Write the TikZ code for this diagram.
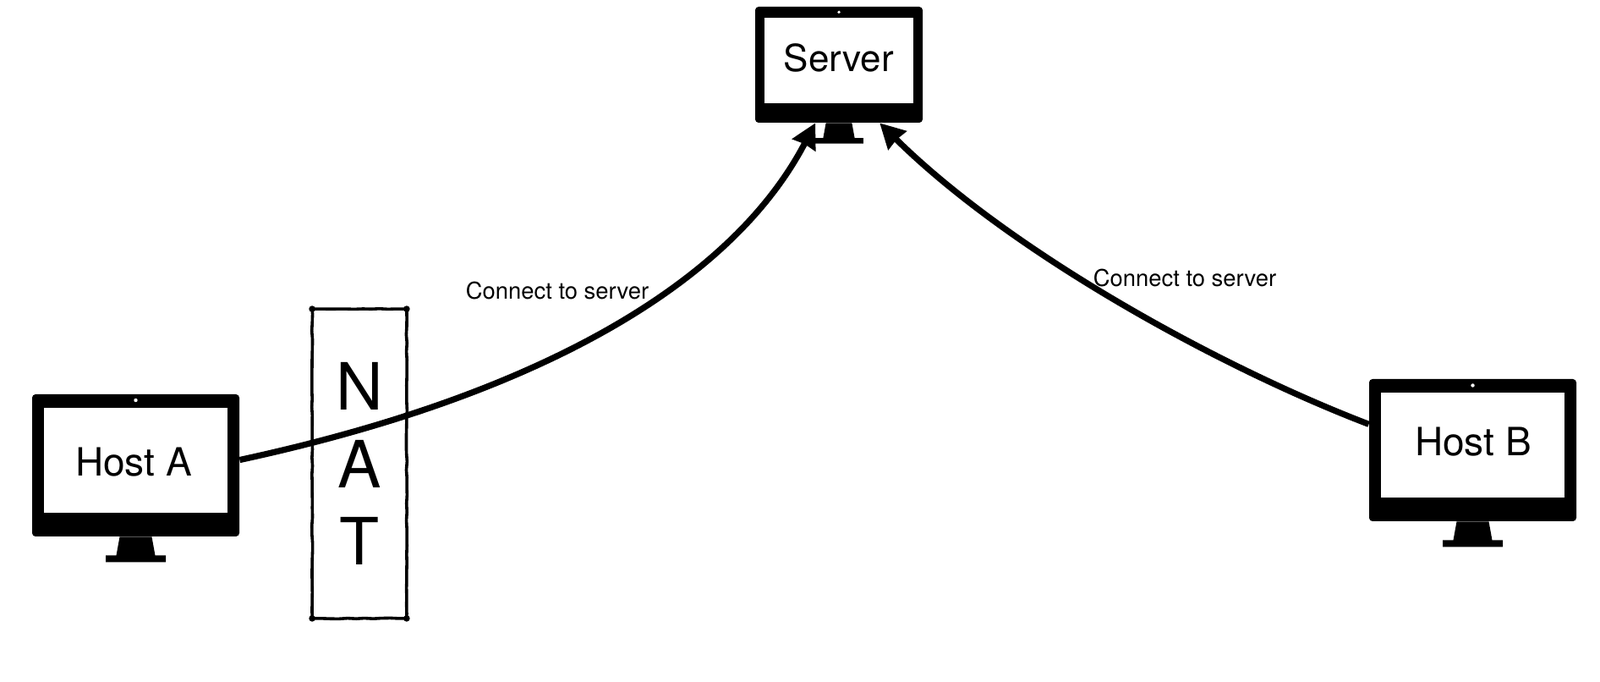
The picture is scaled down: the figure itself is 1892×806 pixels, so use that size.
\documentclass[tikz,border=0pt]{standalone}
\usepackage{fontspec}
\setmainfont{TeX Gyre Heros}
\usetikzlibrary{positioning, calc, arrows.meta, decorations.pathmorphing}
\tikzstyle{Body} = [
	rectangle, fill=black, rounded corners=2pt, inner sep=0pt
	]
\tikzstyle{Screen} = [
	rectangle, fill=white, inner sep=0pt
	]
\tikzstyle{Cam} = [
	circle, fill=white, inner sep=0pt, minimum size=2.2pt
	]
\tikzstyle{Name} = [
	font=\fontsize{23}{27}\selectfont, inner sep=0pt
	]
\tikzstyle{Note} = [
	font=\fontsize{13.7}{16}\selectfont, inner sep=0pt
	]
\tikzstyle{Nat} = [
	rectangle, inner sep=0pt, align=center,
	minimum width=55.5pt, minimum height=182.5pt,
	font=\fontsize{38.5}{45.75}\selectfont
	]
\tikzstyle{Arrow} = [
	line width=3.6pt,
	-{Stealth[length=14.5pt, width=15pt, inset=0.6pt]}
	]

\begin{document}
\begin{tikzpicture}[x=0.5pt, y=-0.5pt]
	\useasboundingbox (0,0) rectangle (1892,806);
	%nodes:
		\node [Body, minimum width=122.5pt, minimum height=84pt] (hostA) at (160.5,550) {};
		\node [Body, minimum width=122.5pt, minimum height=84pt] (hostB) at (1741.5,532) {};
		\node [Body, minimum width=99pt, minimum height=68.5pt] (server) at (992,76.5) {};
		\node [Screen, minimum width=108.5pt, minimum height=62pt] (hostAscreen) at (160.5,544) {};
		\node [Screen, minimum width=108.5pt, minimum height=62pt] (hostBscreen) at (1741.5,526) {};
		\node [Screen, minimum width=88pt, minimum height=50.5pt] (serverscreen) at (992,71.2) {};
		\node [Cam] (hostAcam) at (160.5,473) {};
		\node [Cam] (hostBcam) at (1741.5,455.5) {};
		\node [Cam, minimum size=1.8pt] (servercam) at (992,14.3) {};
		\node [Name] (hostAname) at (158,546.5) {Host A};
		\node [Name] (hostBname) at (1742,522.5) {Host B};
		\node [Name, font=\fontsize{22}{26}\selectfont] (servername) at (992,68) {Server};
		\node [Note] (noteA) at (659,344) {Connect to server};
		\node [Note] (noteB) at (1401,329) {Connect to server};
		\node [Nat] (nat) at (425,548) {N\\A\\T};
	%stands:
		\foreach \n/\s in {hostA/1, hostB/1, server/0.81} {
			\fill ($(\n.south)+(-19*\s,0)$) -- ($(\n.south)+(19*\s,0)$)
				-- ($(\n.south)+(23*\s,22*\s)$) -- ($(\n.south)+(35.5*\s,22*\s)$)
				-- ($(\n.south)+(35.5*\s,30*\s)$) -- ($(\n.south)+(-35.5*\s,30*\s)$)
				-- ($(\n.south)+(-35.5*\s,22*\s)$) -- ($(\n.south)+(-23*\s,22*\s)$) -- cycle;
		}
	%nat frame:
		\draw [line width=1.8pt, decorate, decoration={random steps, segment length=5pt, amplitude=0.25pt}]
			(nat.north west) -- (nat.north east) -- (nat.south east) -- (nat.south west) -- cycle;
		\foreach \c in {north west, north east, south east, south west} {
			\fill (nat.\c) circle (1.9pt);
		}
	%edges:
		\draw[Arrow] (hostA.3.3) .. controls (638,467) and (865,335) .. (server.248.5);
		\draw[Arrow] (hostB.166.7) .. controls (1440,433) and (1195,298) .. (server.305.6);
\end{tikzpicture}
\end{document}
